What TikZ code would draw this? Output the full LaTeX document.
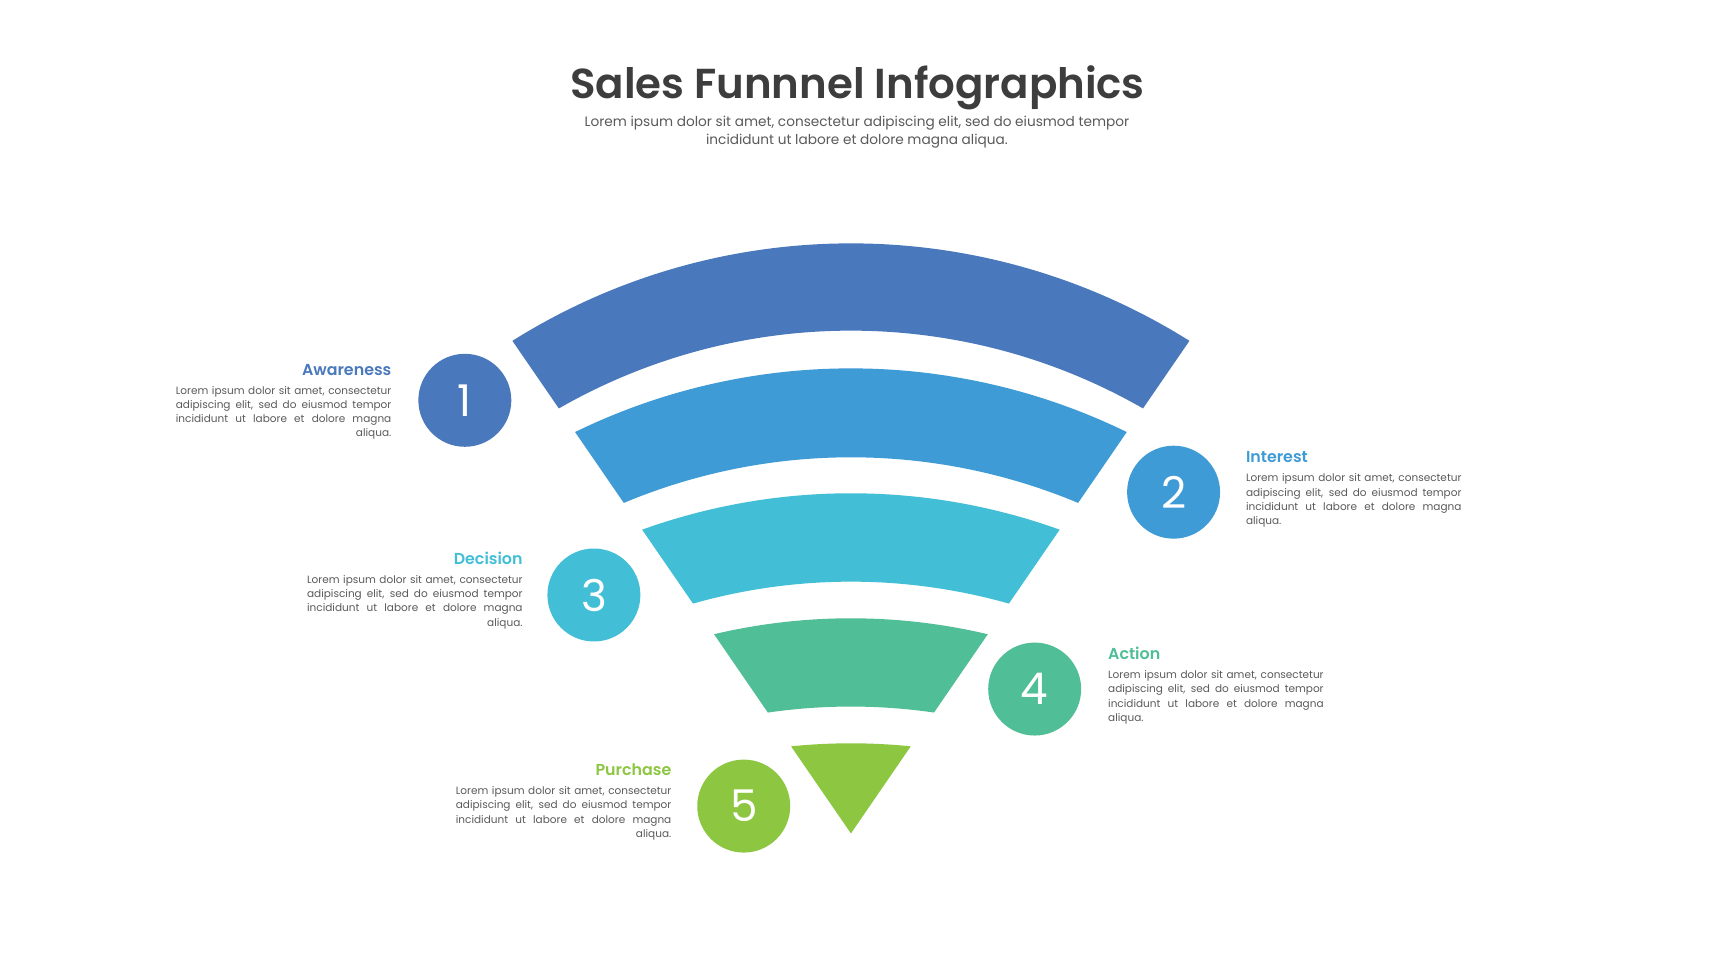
\documentclass[tikz,border=0pt]{standalone}
\usepackage{fontspec}
\setmainfont{Poppins}
\newfontfamily\semibold{Poppins SemiBold}

\definecolor{awareness}{HTML}{4A78BC}
\definecolor{interest}{HTML}{3E9BD5}
\definecolor{decision}{HTML}{42BFD6}
\definecolor{action}{HTML}{50BE96}
\definecolor{purchase}{HTML}{8DC641}
\definecolor{titlegray}{HTML}{3D3D3D}
\definecolor{bodygray}{HTML}{5A5A5A}

\newcommand{\loremlines}{Lorem ipsum dolor sit amet, consectetur\linebreak
  adipiscing elit, sed do eiusmod tempor\linebreak
  incididunt ut labore et dolore magna\linebreak}
\newcommand{\loremleft}{\parfillskip=0pt \loremlines\hspace*{\fill}aliqua.}
\newcommand{\loremright}{\loremlines aliqua.}

\tikzset{
  badge/.style={circle, fill=#1, minimum size=85pt, inner sep=0pt,
    text=white, font=\fontsize{40}{40}\selectfont},
  heading/.style={text=#1, inner sep=0pt, font=\semibold\fontsize{14.5}{16}\selectfont},
  blurb/.style={text width=197pt, align=justify, inner sep=0pt, text=bodygray,
    font=\fontsize{9.6}{13}\selectfont}
}

\begin{document}
\begin{tikzpicture}[x=1pt, y=1pt]
  \useasboundingbox[fill=white] (-778, -134) rectangle (790, 762);

  % title
  \node[text=titlegray, font=\semibold\fontsize{38.3}{42}\selectfont] (title) at (6, 682) {Sales Funnnel Infographics};
  \node[text=bodygray, align=center, font=\fontsize{12.5}{16}\selectfont] (subtitle) at (5.5, 641)
    {Lorem ipsum dolor sit amet, consectetur adipiscing elit, sed do eiusmod tempor\\
     incididunt ut labore et dolore magna aliqua.};

  % funnel bands (arcs through both corners and the top point, in units of 100)
  \foreach \rout/\hout/\rin/\hin/\col in {546.5/539.5/471.5/459.7/awareness,
      445.3/425.2/366.7/343.9/interest, 337/311/255/230.2/decision,
      221/196.7/134.1/116/action}{
    \pgfmathsetmacro\wo{\rout*sin(34.5)/100}
    \pgfmathsetmacro\so{(\hout-\rout*cos(34.5))/100}
    \pgfmathsetmacro\Ro{100*(\wo*\wo+\so*\so)/(2*\so)}
    \pgfmathsetmacro\po{asin(100*\wo/\Ro)}
    \pgfmathsetmacro\wi{\rin*sin(34.5)/100}
    \pgfmathsetmacro\si{(\hin-\rin*cos(34.5))/100}
    \pgfmathsetmacro\Ri{100*(\wi*\wi+\si*\si)/(2*\si)}
    \pgfmathsetmacro\pin{asin(100*\wi/\Ri)}
    \fill[\col] (124.5:\rout) arc[start angle=90+\po, end angle=90-\po, radius=\Ro]
      -- (55.5:\rin) arc[start angle=90-\pin, end angle=90+\pin, radius=\Ri] -- cycle;
  }
  \fill[purchase] (124.5:96.6) arc[start angle=95.86, end angle=84.14, radius=535.7] -- (0, 0) -- cycle;

  % numbered circles
  \node[badge=awareness] (one) at (-353, 396) {1};
  \node[badge=interest] (two) at (295, 312) {2};
  \node[badge=decision] (three) at (-235, 218) {3};
  \node[badge=action] (four) at (168, 132) {4};
  \node[badge=purchase] (five) at (-98, 25) {5};

  % texts
  \node[heading=awareness, anchor=base east] (awarenesshead) at (-420, 419) {Awareness};
  \node[blurb, anchor=north east] (awarenesstext) at (-420, 409) {\loremleft};
  \node[heading=interest, anchor=base west] (interesthead) at (361, 339) {Interest};
  \node[blurb, anchor=north west] (interesttext) at (361, 329) {\loremright};
  \node[heading=decision, anchor=base east] (decisionhead) at (-300, 246) {Decision};
  \node[blurb, anchor=north east] (decisiontext) at (-300, 236) {\loremleft};
  \node[heading=action, anchor=base west] (actionhead) at (235, 159) {Action};
  \node[blurb, anchor=north west] (actiontext) at (235, 149) {\loremright};
  \node[heading=purchase, anchor=base east] (purchasehead) at (-164, 53) {Purchase};
  \node[blurb, anchor=north east] (purchasetext) at (-164, 43) {\loremleft};
\end{tikzpicture}
\end{document}
